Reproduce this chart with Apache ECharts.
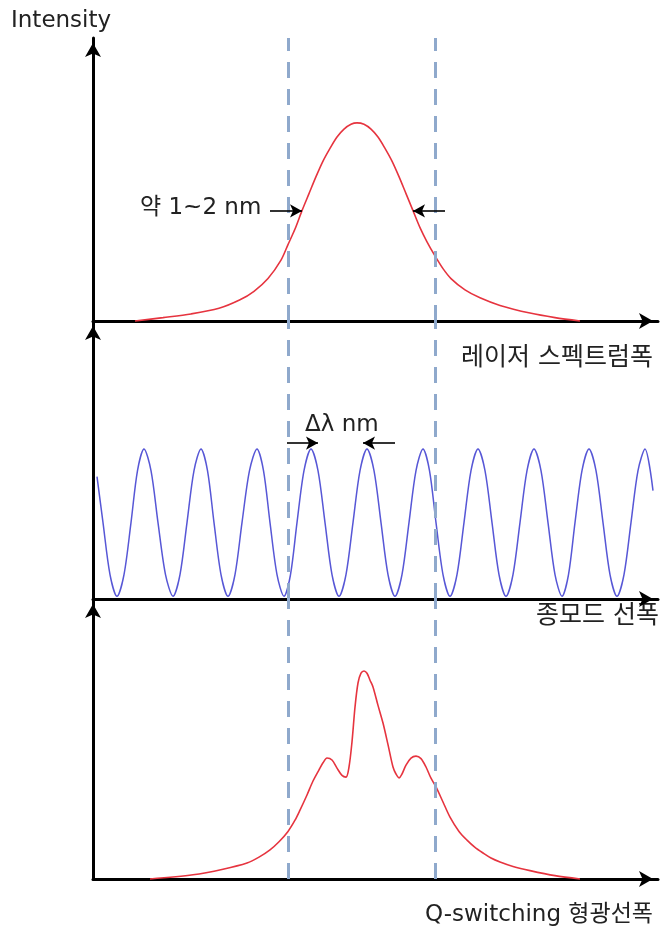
<!DOCTYPE html>
<html>
<head>
<meta charset="utf-8">
<script src="https://cdn.jsdelivr.net/npm/echarts@6/dist/echarts.min.js"></script>
<style>
  html, body { margin: 0; padding: 0; background: #fff; }
  #chart { width: 662px; height: 926px; }
</style>
</head>
<body>
<div id="chart"></div>
<script>
// Relative wavelength positions (arbitrary units) and relative intensities.

// Laser spectral width (top panel)
const laserX = [42, 70, 98, 126, 147, 161, 175, 188, 195, 202, 209, 216, 223, 230, 237, 244, 251, 258, 264, 271, 278, 285, 292, 299, 306, 313, 320, 327, 334, 342, 350, 358, 372, 387, 407, 437, 462, 487];
const laserY = [0, 0.012, 0.025, 0.045, 0.075, 0.105, 0.15, 0.215, 0.27, 0.325, 0.39, 0.45, 0.51, 0.565, 0.61, 0.65, 0.678, 0.695, 0.70, 0.695, 0.678, 0.65, 0.61, 0.565, 0.51, 0.45, 0.39, 0.33, 0.28, 0.23, 0.185, 0.15, 0.11, 0.082, 0.055, 0.028, 0.012, 0];

// Longitudinal mode comb (middle panel)
const modeX = [4, 10, 17, 24, 31, 38, 44.5, 51, 58, 65, 72.5, 80, 87, 94, 101, 108, 114.5, 121, 128, 135, 142, 149, 156.5, 164, 170.5, 177, 184, 191, 197.5, 204, 211, 218, 225, 232, 239, 246, 253, 260, 267, 274, 281, 288, 295, 302, 309, 316, 323, 330, 336.5, 343, 350, 357, 364, 371, 378, 385, 392, 399, 406, 413, 420, 427, 434, 441, 448, 455, 462, 469, 475.5, 482, 489, 496, 503, 510, 517, 524, 531, 538, 545, 552, 560];
const modeY = [0.44, 0.275, 0.088, 0.01, 0.088, 0.275, 0.462, 0.54, 0.462, 0.275, 0.088, 0.01, 0.088, 0.275, 0.462, 0.54, 0.462, 0.275, 0.088, 0.01, 0.088, 0.275, 0.462, 0.54, 0.462, 0.275, 0.088, 0.01, 0.088, 0.275, 0.462, 0.54, 0.462, 0.275, 0.088, 0.01, 0.088, 0.275, 0.462, 0.54, 0.462, 0.275, 0.088, 0.01, 0.088, 0.275, 0.462, 0.54, 0.462, 0.275, 0.088, 0.01, 0.088, 0.275, 0.462, 0.54, 0.462, 0.275, 0.088, 0.01, 0.088, 0.275, 0.462, 0.54, 0.462, 0.275, 0.088, 0.01, 0.088, 0.275, 0.462, 0.54, 0.462, 0.275, 0.088, 0.01, 0.088, 0.275, 0.462, 0.54, 0.39];

// Q-switching fluorescence width (bottom panel)
const qswX = [57, 100, 130, 154, 166, 177, 186, 195, 202, 207, 214, 220, 226, 230, 234, 239, 244, 249, 253, 256, 259, 262, 265, 268, 271, 274, 277, 280, 285, 290, 295, 300, 303, 306, 309, 313, 318, 323, 328, 333, 338, 343, 350, 357, 366, 374, 382, 390, 398, 407, 420, 437, 462, 487];
const qswY = [0, 0.015, 0.035, 0.057, 0.078, 0.104, 0.133, 0.17, 0.21, 0.246, 0.30, 0.35, 0.39, 0.415, 0.432, 0.425, 0.396, 0.37, 0.364, 0.40, 0.49, 0.614, 0.70, 0.735, 0.743, 0.735, 0.71, 0.686, 0.62, 0.557, 0.48, 0.40, 0.375, 0.361, 0.375, 0.407, 0.432, 0.439, 0.43, 0.40, 0.36, 0.329, 0.275, 0.221, 0.17, 0.139, 0.113, 0.093, 0.075, 0.061, 0.045, 0.03, 0.012, 0];

// Filter passband edges (dashed guides)
const bandEdges = [195, 342];

// Width markers: [from, to] on the x scale, at a given intensity
const laserArrows = [[177, 209], [352, 320]];
const laserArrowLevel = 0.389;
const modeArrows = [[194, 225], [302, 270]];
const modeArrowLevel = 0.561;

const X_MAX = 565;
const RED = '#e6343f';
const BLUE = '#5757d6';
const DASH = '#8fa9cc';
const TEXT = '#222';
const FONT = "'DejaVu Sans', 'Noto Sans CJK KR', sans-serif";

const pairs = (xs, ys) => xs.map((x, i) => [x, ys[i]]);

const grids = [
  { left: 93, right: 4, top: 38, height: 283 },
  { left: 93, right: 4, top: 321, height: 278 },
  { left: 93, right: 4, top: 599, height: 280 }
];

const axisLine = {
  show: true,
  symbol: ['none', 'arrow'],
  symbolSize: [12, 14],
  symbolOffset: [0, -5],
  lineStyle: { color: '#000', width: 3 }
};

const xAxes = grids.map((g, i) => ({
  type: 'value', gridIndex: i, min: 0, max: X_MAX,
  axisLine, axisTick: { show: false }, axisLabel: { show: false }, splitLine: { show: false }
}));
const yAxes = grids.map((g, i) => ({
  type: 'value', gridIndex: i, min: 0, max: 1,
  axisLine, axisTick: { show: false }, axisLabel: { show: false }, splitLine: { show: false }
}));

const guideLines = {
  silent: true,
  symbol: 'none',
  label: { show: false },
  lineStyle: { color: DASH, width: 3, type: [16, 11] },
  data: bandEdges.map(v => ({ xAxis: v }))
};

function arrowLines(arrows, level) {
  return {
    silent: true,
    symbol: ['none', 'arrow'],
    symbolSize: [10, 12],
    label: { show: false },
    lineStyle: { color: '#000', width: 1.6, type: 'solid' },
    data: arrows.map(a => [{ coord: [a[0], level] }, { coord: [a[1], level] }])
  };
}

const lineBase = { type: 'line', showSymbol: false, smooth: 0.3, clip: false, silent: true };

function label(text, x, y, align, size) {
  return {
    type: 'text', x, y, silent: true,
    style: { text, font: `${size}px ${FONT}`, fill: TEXT, align, verticalAlign: 'middle' }
  };
}

const option = {
  animation: false,
  backgroundColor: '#fff',
  grid: grids,
  xAxis: xAxes,
  yAxis: yAxes,
  series: [
    Object.assign({}, lineBase, {
      xAxisIndex: 0, yAxisIndex: 0, data: pairs(laserX, laserY),
      lineStyle: { color: RED, width: 1.6 },
      markLine: guideLines
    }),
    {
      type: 'line', xAxisIndex: 0, yAxisIndex: 0, data: [], silent: true,
      markLine: arrowLines(laserArrows, laserArrowLevel)
    },
    Object.assign({}, lineBase, {
      xAxisIndex: 1, yAxisIndex: 1, data: pairs(modeX, modeY),
      lineStyle: { color: BLUE, width: 1.5 },
      markLine: guideLines
    }),
    {
      type: 'line', xAxisIndex: 1, yAxisIndex: 1, data: [], silent: true,
      markLine: arrowLines(modeArrows, modeArrowLevel)
    },
    Object.assign({}, lineBase, {
      xAxisIndex: 2, yAxisIndex: 2, data: pairs(qswX, qswY),
      lineStyle: { color: RED, width: 1.6 },
      markLine: guideLines
    })
  ],
  graphic: [
    label('Intensity', 11, 21, 'left', 23),
    label('약 1~2 nm', 140, 208, 'left', 23),
    label('Δλ nm', 305, 425, 'left', 23),
    label('레이저 스펙트럼폭', 653, 358, 'right', 25),
    label('종모드 선폭', 659, 616, 'right', 25),
    label('Q-switching 형광선폭', 653, 915, 'right', 23)
  ]
};

const chart = echarts.init(document.getElementById('chart'), null, { renderer: 'canvas' });
chart.setOption(option);
</script>
</body>
</html>
